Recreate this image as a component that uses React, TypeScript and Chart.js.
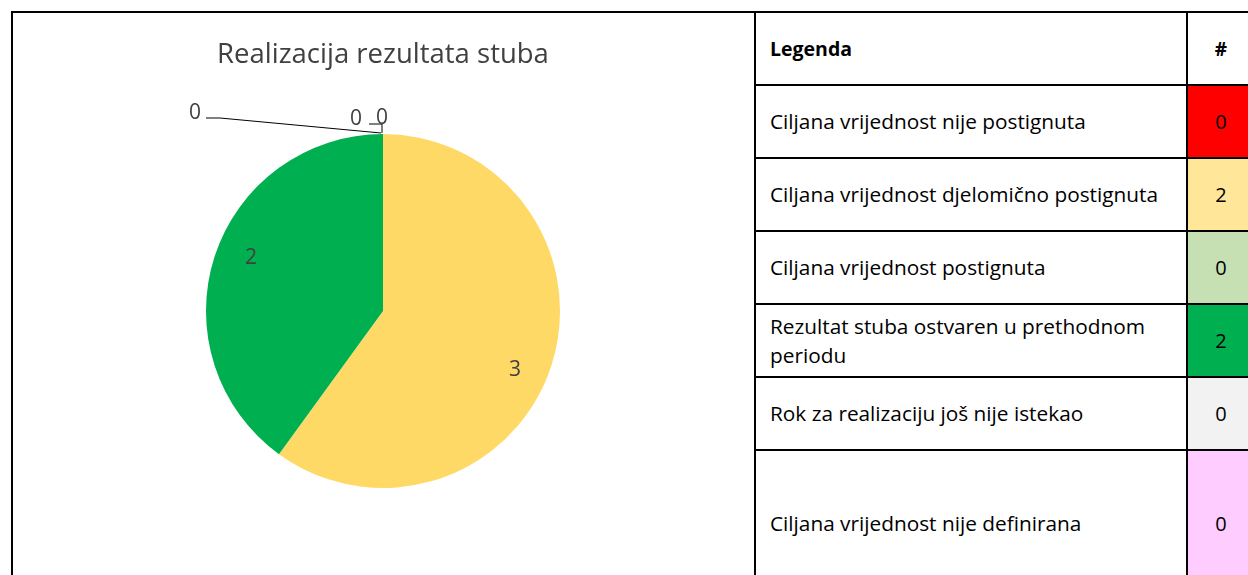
import React, { useEffect, useRef } from "react";
import { Chart, registerables } from "chart.js";

Chart.register(...registerables);

// ---- Data ----
const chartTitle = "Realizacija rezultata stuba";

const pieCategories = [
  "Ciljana vrijednost nije postignuta",
  "Ciljana vrijednost djelomično postignuta",
  "Rezultat stuba ostvaren u prethodnom periodu",
  "Rok za realizaciju još nije istekao",
  "Ciljana vrijednost nije definirana",
];
const pieValues = [0, 3, 2, 0, 0];
const pieColors = ["#FF0000", "#FFD966", "#00B050", "#F2F2F2", "#FFCCFF"];

const legendHeader = "Legenda";
const countHeader = "#";
const tableCategories = [
  "Ciljana vrijednost nije postignuta",
  "Ciljana vrijednost djelomično postignuta",
  "Ciljana vrijednost postignuta",
  "Rezultat stuba ostvaren u prethodnom\nperiodu",
  "Rok za realizaciju još nije istekao",
  "Ciljana vrijednost nije definirana",
];
const tableCounts = [0, 2, 0, 2, 0, 0];
const tableColors = ["#FF0000", "#FFE699", "#C6E0B4", "#00B050", "#F2F2F2", "#FFCCFF"];

// label placement for zero-valued slices (offsets from the slice's anchor on the rim)
const zeroLabelLayout = [
  { text: [-188, -24], leader: [[-177, -16], [-163, -16], [-2, -1]] },
  { text: [-27, -18], leader: [] as number[][] },
  { text: [-1, -19], leader: [[-14, -10], [-1, -10], [-1, -1]] },
];

const FONT = "'Open Sans', Lato, sans-serif";
const TEXT_COLOR = "#404040";
const LABEL_DY = 3;

const sliceLabelPlugin = {
  id: "sliceLabels",
  afterDatasetsDraw(chart: any) {
    const ctx = chart.ctx as CanvasRenderingContext2D;
    const meta = chart.getDatasetMeta(0);
    ctx.save();
    ctx.font = `21px ${FONT}`;
    ctx.fillStyle = TEXT_COLOR;
    ctx.textAlign = "center";
    ctx.textBaseline = "middle";
    let zi = 0;
    meta.data.forEach((arc: any, i: number) => {
      const p = arc.getProps(["x", "y", "startAngle", "endAngle", "outerRadius"], true);
      const v = pieValues[i];
      if (v > 0) {
        const mid = (p.startAngle + p.endAngle) / 2 + (5 * Math.PI) / 180;
        const r = p.outerRadius * 0.81;
        ctx.fillText(String(v), p.x + Math.cos(mid) * r, p.y + Math.sin(mid) * r + LABEL_DY);
      } else {
        const lay = zeroLabelLayout[zi++ % zeroLabelLayout.length];
        const ax = p.x + Math.cos(p.startAngle) * p.outerRadius;
        const ay = p.y + Math.sin(p.startAngle) * p.outerRadius;
        if (lay.leader.length) {
          ctx.beginPath();
          ctx.strokeStyle = "#000000";
          ctx.lineWidth = 1;
          lay.leader.forEach((pt, k) => {
            if (k === 0) ctx.moveTo(ax + pt[0], ay + pt[1]);
            else ctx.lineTo(ax + pt[0], ay + pt[1]);
          });
          ctx.stroke();
        }
        ctx.fillText(String(v), ax + lay.text[0], ay + lay.text[1] + LABEL_DY);
      }
    });
    ctx.restore();
  },
};

function PieChart() {
  const ref = useRef<HTMLCanvasElement | null>(null);
  useEffect(() => {
    if (!ref.current) return;
    const chart = new Chart(ref.current, {
      type: "pie",
      data: {
        labels: pieCategories,
        datasets: [
          {
            data: pieValues,
            backgroundColor: pieColors,
            borderWidth: 0,
          },
        ],
      },
      options: {
        responsive: false,
        animation: false,
        layout: { padding: { top: 0, bottom: 87, left: 0, right: 1 } },
        plugins: {
          legend: { display: false },
          tooltip: { enabled: false },
          title: {
            display: true,
            text: chartTitle,
            color: TEXT_COLOR,
            font: { family: FONT, size: 27.5, weight: "normal", lineHeight: 1.2 },
            padding: { top: 26, bottom: 62 },
          },
        },
      },
      plugins: [sliceLabelPlugin],
    });
    return () => chart.destroy();
  }, []);
  return (
    <canvas
      ref={ref}
      width={741}
      height={562}
      style={{ position: "absolute", left: 13, top: 13, width: 741, height: 562 }}
    />
  );
}

export default function App() {
  const rowTop = (i: number) => 11 + 73 * i;
  const cellBase: React.CSSProperties = {
    position: "absolute",
    boxSizing: "border-box",
    border: "2px solid #000",
    display: "flex",
    alignItems: "center",
    fontFamily: FONT,
    color: "#000",
  };
  const rows = [
    { label: legendHeader, count: countHeader, color: "#FFFFFF", bold: true, h: 73 },
    ...tableCategories.map((c, i) => ({
      label: c,
      count: String(tableCounts[i]),
      color: tableColors[i],
      bold: false,
      h: i === tableCategories.length - 1 ? 146 : 73,
    })),
  ];
  return (
    <div style={{ position: "relative", width: 1248, height: 575, overflow: "hidden", background: "#fff" }}>
      <style>{`body{margin:0;}`}</style>
      <div
        style={{
          position: "absolute",
          left: 11,
          top: 11,
          width: 745,
          height: 620,
          boxSizing: "border-box",
          borderLeft: "2px solid #000",
          borderTop: "2px solid #000",
        }}
      />
      <PieChart />
      {rows.map((r, i) => (
        <React.Fragment key={i}>
          <div
            style={{
              ...cellBase,
              left: 754,
              top: rowTop(i),
              width: 434,
              height: r.h + 2,
              paddingLeft: 14,
              fontWeight: r.bold ? "bold" : "normal",
              fontSize: r.bold ? 19.5 : 20.8,
              whiteSpace: "pre-line",
              lineHeight: "29px",
              background: "#fff",
            }}
          >
            {r.label}
          </div>
          <div
            style={{
              ...cellBase,
              left: 1186,
              top: rowTop(i),
              width: 72,
              height: r.h + 2,
              justifyContent: "center",
              paddingRight: 2,
              fontWeight: r.bold ? "bold" : "normal",
              fontSize: r.bold ? 19 : 20,
              background: r.color,
            }}
          >
            {r.count}
          </div>
        </React.Fragment>
      ))}
    </div>
  );
}
